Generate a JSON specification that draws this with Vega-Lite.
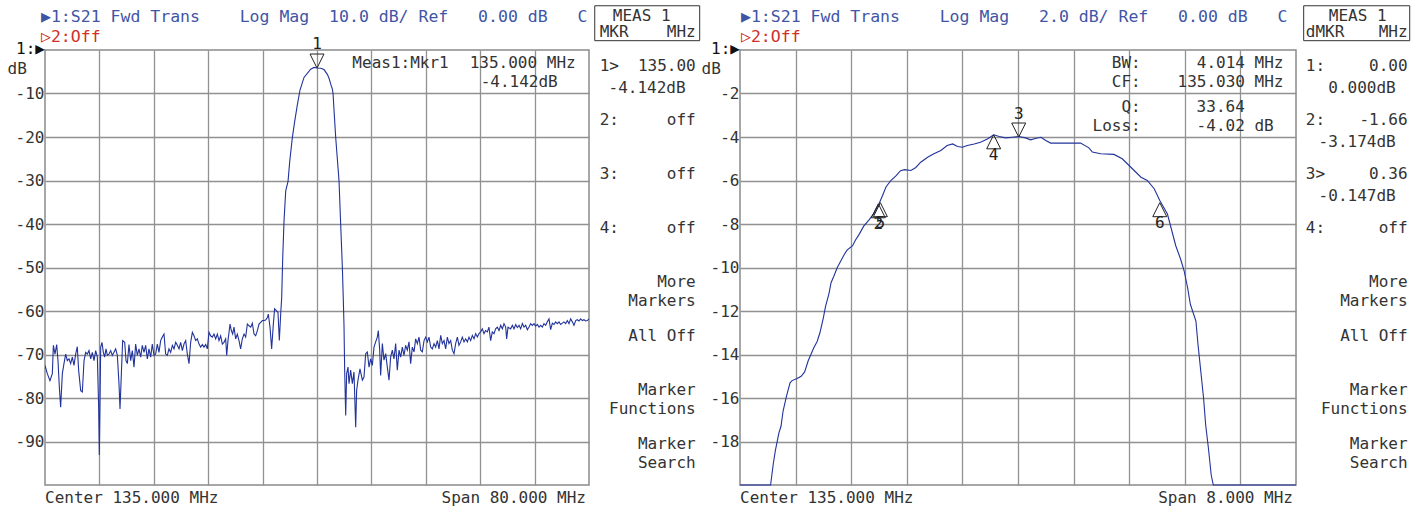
{
  "$schema": "https://vega.github.io/schema/vega-lite/v6.json",
  "background": "white",
  "padding": {"left": 6, "top": 5, "right": 0, "bottom": 0},
  "spacing": 0,
  "bounds": "flush",
  "config": {
    "font": "DejaVu Sans Mono",
    "view": {"stroke": "#8a8a8a", "strokeWidth": 1.5},
    "axis": {"labelFont": "DejaVu Sans Mono", "labelFontSize": 16, "labelColor": "#333333", "grid": true, "gridColor": "#919191", "gridWidth": 1.3, "gridOpacity": 1, "domain": false, "ticks": false, "labelPadding": 1,
      "titleFont": "DejaVu Sans Mono", "titleFontSize": 16, "titleFontWeight": "normal", "titleColor": "#333333"},
    "text": {"font": "DejaVu Sans Mono", "fontSize": 16, "color": "#333333"},
    "title": {"anchor": "start", "frame": "group", "font": "DejaVu Sans Mono", "fontSize": 16.5, "fontWeight": "normal", "color": "#3f55a5", "subtitleFont": "DejaVu Sans Mono", "subtitleFontSize": 16.5, "subtitleColor": "#d0302c", "offset": -7, "subtitlePadding": 3}
  },
  "datasets": {
    "left": [
      {"f":95.00,"db":-72.5},{"f":95.34,"db":-74.4},{"f":95.73,"db":-76.0},{"f":96.08,"db":-74.4},{"f":96.23,"db":-67.9},{"f":96.47,"db":-69.9},{"f":96.72,"db":-67.7},{"f":96.91,"db":-71.4},{"f":97.11,"db":-77.5},{"f":97.30,"db":-82.1},{"f":97.55,"db":-74.4},{"f":97.79,"db":-72.1},{"f":98.04,"db":-69.9},{"f":98.28,"db":-71.4},{"f":98.53,"db":-71.0},{"f":98.77,"db":-72.1},{"f":99.02,"db":-70.6},{"f":99.26,"db":-72.5},{"f":99.51,"db":-69.9},{"f":99.75,"db":-68.2},{"f":99.95,"db":-73.7},{"f":100.25,"db":-78.3},{"f":100.49,"db":-78.6},{"f":100.74,"db":-71.4},{"f":100.98,"db":-69.5},{"f":101.23,"db":-69.9},{"f":101.47,"db":-69.1},{"f":101.72,"db":-71.0},{"f":101.96,"db":-69.5},{"f":102.21,"db":-71.4},{"f":102.45,"db":-69.1},{"f":102.70,"db":-70.6},{"f":102.89,"db":-82.1},{"f":102.99,"db":-93.1},{"f":103.09,"db":-81.3},{"f":103.19,"db":-68.3},{"f":103.38,"db":-67.2},{"f":103.58,"db":-69.5},{"f":103.77,"db":-70.6},{"f":103.97,"db":-68.7},{"f":104.17,"db":-70.2},{"f":104.41,"db":-69.9},{"f":104.66,"db":-69.1},{"f":104.90,"db":-70.2},{"f":105.15,"db":-69.5},{"f":105.39,"db":-68.7},{"f":105.64,"db":-70.2},{"f":105.88,"db":-76.7},{"f":106.03,"db":-82.5},{"f":106.23,"db":-74.4},{"f":106.42,"db":-66.8},{"f":106.72,"db":-67.2},{"f":106.91,"db":-71.4},{"f":107.11,"db":-72.1},{"f":107.35,"db":-67.7},{"f":107.60,"db":-71.4},{"f":107.84,"db":-69.1},{"f":108.09,"db":-72.9},{"f":108.33,"db":-67.6},{"f":108.58,"db":-70.2},{"f":108.82,"db":-68.7},{"f":109.07,"db":-70.6},{"f":109.31,"db":-67.9},{"f":109.56,"db":-69.5},{"f":109.80,"db":-67.9},{"f":110.05,"db":-71.0},{"f":110.29,"db":-68.7},{"f":110.54,"db":-70.6},{"f":110.78,"db":-67.6},{"f":111.03,"db":-70.2},{"f":111.27,"db":-69.9},{"f":111.52,"db":-67.6},{"f":111.76,"db":-69.5},{"f":112.01,"db":-66.8},{"f":112.25,"db":-66.0},{"f":112.50,"db":-65.3},{"f":112.74,"db":-69.9},{"f":112.99,"db":-70.2},{"f":113.23,"db":-68.7},{"f":113.48,"db":-69.5},{"f":113.73,"db":-67.9},{"f":113.97,"db":-68.7},{"f":114.22,"db":-67.2},{"f":114.46,"db":-67.9},{"f":114.71,"db":-68.7},{"f":114.95,"db":-67.2},{"f":115.20,"db":-69.1},{"f":115.44,"db":-67.6},{"f":115.69,"db":-66.8},{"f":115.93,"db":-69.9},{"f":116.18,"db":-72.1},{"f":116.42,"db":-67.2},{"f":116.67,"db":-64.9},{"f":116.91,"db":-65.7},{"f":117.16,"db":-66.8},{"f":117.40,"db":-66.4},{"f":117.65,"db":-67.6},{"f":117.89,"db":-68.3},{"f":118.14,"db":-67.7},{"f":118.38,"db":-68.3},{"f":118.63,"db":-67.7},{"f":118.87,"db":-68.7},{"f":119.12,"db":-64.9},{"f":119.36,"db":-65.7},{"f":119.61,"db":-66.0},{"f":119.85,"db":-65.3},{"f":120.10,"db":-66.4},{"f":120.34,"db":-65.3},{"f":120.59,"db":-66.8},{"f":120.83,"db":-65.7},{"f":121.08,"db":-67.6},{"f":121.32,"db":-67.2},{"f":121.57,"db":-66.4},{"f":121.72,"db":-70.2},{"f":121.91,"db":-66.8},{"f":122.21,"db":-63.0},{"f":122.40,"db":-64.5},{"f":122.60,"db":-65.3},{"f":122.79,"db":-63.7},{"f":123.04,"db":-66.4},{"f":123.28,"db":-65.3},{"f":123.53,"db":-66.8},{"f":123.77,"db":-68.7},{"f":124.02,"db":-66.4},{"f":124.27,"db":-65.3},{"f":124.51,"db":-66.0},{"f":124.76,"db":-63.0},{"f":125.00,"db":-63.4},{"f":125.25,"db":-63.7},{"f":125.49,"db":-62.8},{"f":125.74,"db":-65.3},{"f":125.98,"db":-65.7},{"f":126.23,"db":-64.5},{"f":126.47,"db":-63.0},{"f":126.72,"db":-62.6},{"f":126.96,"db":-62.2},{"f":127.21,"db":-62.2},{"f":127.45,"db":-62.1},{"f":127.70,"db":-61.5},{"f":127.84,"db":-60.7},{"f":128.09,"db":-63.7},{"f":128.33,"db":-68.7},{"f":128.58,"db":-63.0},{"f":128.77,"db":-59.5},{"f":129.02,"db":-59.9},{"f":129.26,"db":-60.3},{"f":129.46,"db":-66.8},{"f":129.66,"db":-60.7},{"f":129.81,"db":-56.9},{"f":129.96,"db":-47.7},{"f":130.15,"db":-39.3},{"f":130.40,"db":-32.4},{"f":130.74,"db":-30.2},{"f":130.99,"db":-25.6},{"f":131.37,"db":-20.2},{"f":131.72,"db":-16.4},{"f":132.11,"db":-12.6},{"f":132.50,"db":-9.2},{"f":133.09,"db":-6.3},{"f":134.07,"db":-4.4},{"f":134.56,"db":-4.0},{"f":135.00,"db":-4.14},{"f":135.54,"db":-4.2},{"f":136.03,"db":-4.5},{"f":136.52,"db":-5.6},{"f":136.77,"db":-6.5},{"f":137.05,"db":-8.0},{"f":137.26,"db":-9.0},{"f":137.36,"db":-10.0},{"f":137.55,"db":-15.0},{"f":137.75,"db":-20.1},{"f":138.24,"db":-30.1},{"f":138.48,"db":-40.0},{"f":138.73,"db":-50.0},{"f":138.87,"db":-57.5},{"f":138.97,"db":-63.3},{"f":139.07,"db":-73.6},{"f":139.22,"db":-84.0},
      {"f":139.36,"db":-74.4},{"f":139.56,"db":-72.9},{"f":139.71,"db":-76.7},{"f":139.95,"db":-73.6},{"f":140.20,"db":-76.7},{"f":140.44,"db":-74.0},{"f":140.69,"db":-86.7},{"f":140.83,"db":-78.2},{"f":141.03,"db":-75.9},{"f":141.32,"db":-73.3},{"f":141.67,"db":-75.9},{"f":141.91,"db":-75.2},{"f":142.16,"db":-69.8},{"f":142.40,"db":-69.4},{"f":142.65,"db":-72.9},{"f":142.89,"db":-71.0},{"f":143.14,"db":-72.5},{"f":143.38,"db":-68.3},{"f":143.63,"db":-67.1},{"f":143.87,"db":-66.0},{"f":144.02,"db":-64.5},{"f":144.22,"db":-69.0},{"f":144.36,"db":-74.8},{"f":144.61,"db":-67.5},{"f":144.85,"db":-71.3},{"f":145.10,"db":-69.8},{"f":145.34,"db":-72.9},{"f":145.59,"db":-75.9},{"f":145.83,"db":-70.6},{"f":146.08,"db":-69.0},{"f":146.32,"db":-71.0},{"f":146.57,"db":-67.5},{"f":146.81,"db":-73.6},{"f":147.06,"db":-69.0},{"f":147.30,"db":-70.6},{"f":147.55,"db":-68.3},{"f":147.79,"db":-70.2},{"f":148.04,"db":-67.9},{"f":148.28,"db":-69.0},{"f":148.53,"db":-67.1},{"f":148.77,"db":-72.1},{"f":149.02,"db":-68.3},{"f":149.27,"db":-69.4},{"f":149.51,"db":-66.4},{"f":149.76,"db":-67.5},{"f":150.00,"db":-66.0},{"f":150.25,"db":-69.0},{"f":150.49,"db":-69.4},{"f":150.74,"db":-66.8},{"f":150.98,"db":-66.0},{"f":151.23,"db":-67.1},{"f":151.47,"db":-66.0},{"f":151.72,"db":-68.3},{"f":151.96,"db":-68.7},{"f":152.21,"db":-67.5},{"f":152.45,"db":-68.3},{"f":152.70,"db":-66.8},{"f":152.94,"db":-68.7},{"f":153.19,"db":-65.6},{"f":153.43,"db":-67.5},{"f":153.68,"db":-66.8},{"f":153.92,"db":-68.7},{"f":154.17,"db":-66.0},{"f":154.41,"db":-67.5},{"f":154.66,"db":-66.8},{"f":154.90,"db":-69.0},{"f":155.15,"db":-69.8},{"f":155.39,"db":-67.5},{"f":155.64,"db":-66.0},{"f":155.88,"db":-67.9},{"f":156.13,"db":-67.1},{"f":156.37,"db":-66.0},{"f":156.62,"db":-67.1},{"f":156.86,"db":-66.4},{"f":157.11,"db":-67.1},{"f":157.35,"db":-66.0},{"f":157.60,"db":-66.8},{"f":157.84,"db":-65.6},{"f":158.09,"db":-66.4},{"f":158.33,"db":-65.2},{"f":158.58,"db":-66.0},{"f":158.82,"db":-65.2},{"f":159.07,"db":-64.8},{"f":159.31,"db":-64.1},{"f":159.56,"db":-65.2},{"f":159.80,"db":-64.5},{"f":160.05,"db":-64.8},{"f":160.29,"db":-63.7},{"f":160.54,"db":-66.8},{"f":160.78,"db":-64.8},{"f":161.03,"db":-65.2},{"f":161.27,"db":-64.1},{"f":161.52,"db":-63.7},{"f":161.77,"db":-64.5},{"f":162.01,"db":-63.3},{"f":162.26,"db":-64.1},{"f":162.50,"db":-62.9},{"f":162.75,"db":-63.7},{"f":162.89,"db":-66.4},{"f":163.09,"db":-63.7},{"f":163.48,"db":-64.1},{"f":163.73,"db":-63.3},{"f":163.97,"db":-64.1},{"f":164.22,"db":-63.1},{"f":164.46,"db":-63.8},{"f":164.71,"db":-63.3},{"f":164.95,"db":-64.1},{"f":165.20,"db":-62.9},{"f":165.44,"db":-63.7},{"f":165.69,"db":-63.3},{"f":165.93,"db":-64.3},{"f":166.18,"db":-63.7},{"f":166.42,"db":-62.9},{"f":166.67,"db":-63.3},{"f":166.91,"db":-62.9},{"f":167.16,"db":-63.5},{"f":167.40,"db":-63.1},{"f":167.65,"db":-63.7},{"f":167.89,"db":-63.3},{"f":168.14,"db":-63.7},{"f":168.38,"db":-62.9},{"f":168.63,"db":-63.3},{"f":168.87,"db":-62.5},{"f":169.12,"db":-61.8},{"f":169.36,"db":-64.3},{"f":169.61,"db":-62.8},{"f":169.85,"db":-63.1},{"f":170.10,"db":-62.5},{"f":170.34,"db":-62.9},{"f":170.59,"db":-62.5},{"f":170.83,"db":-63.1},{"f":171.08,"db":-62.8},{"f":171.32,"db":-62.5},{"f":171.57,"db":-62.9},{"f":171.81,"db":-62.2},{"f":172.06,"db":-62.9},{"f":172.30,"db":-61.8},{"f":172.55,"db":-62.5},{"f":172.79,"db":-63.3},{"f":173.04,"db":-62.2},{"f":173.28,"db":-62.0},{"f":173.53,"db":-62.3},{"f":173.77,"db":-61.8},{"f":174.02,"db":-62.2},{"f":174.26,"db":-62.0},{"f":174.51,"db":-62.3},{"f":174.75,"db":-62.2},{"f":175.00,"db":-61.8}
    ],
    "right": [
      {"f":131.0,"db":-20},{"f":131.44,"db":-20},{"f":131.48,"db":-19.0},{"f":131.51,"db":-18.4},{"f":131.56,"db":-17.6},{"f":131.59,"db":-17.3},{"f":131.62,"db":-16.6},{"f":131.67,"db":-15.9},{"f":131.72,"db":-15.3},{"f":131.75,"db":-15.2},{"f":131.82,"db":-15.1},{"f":131.88,"db":-15.0},{"f":131.93,"db":-14.8},{"f":131.98,"db":-14.3},{"f":132.02,"db":-14.0},{"f":132.06,"db":-13.7},{"f":132.11,"db":-13.4},{"f":132.15,"db":-13.0},{"f":132.20,"db":-12.3},{"f":132.23,"db":-11.8},{"f":132.28,"db":-11.2},{"f":132.31,"db":-10.7},{"f":132.35,"db":-10.4},{"f":132.40,"db":-10.0},{"f":132.45,"db":-9.7},{"f":132.50,"db":-9.4},{"f":132.54,"db":-9.2},{"f":132.62,"db":-9.0},{"f":132.66,"db":-8.75},{"f":132.71,"db":-8.5},{"f":132.78,"db":-8.1},{"f":132.86,"db":-7.8},{"f":132.93,"db":-7.5},{"f":133.00,"db":-7.07},{"f":133.05,"db":-6.7},{"f":133.10,"db":-6.3},{"f":133.17,"db":-6.0},{"f":133.24,"db":-5.8},{"f":133.31,"db":-5.55},{"f":133.37,"db":-5.5},{"f":133.46,"db":-5.54},{"f":133.53,"db":-5.4},{"f":133.60,"db":-5.16},{"f":133.70,"db":-4.93},{"f":133.79,"db":-4.77},{"f":133.89,"db":-4.62},{"f":133.98,"db":-4.39},{"f":134.06,"db":-4.32},{"f":134.13,"db":-4.44},{"f":134.20,"db":-4.47},{"f":134.27,"db":-4.39},{"f":134.37,"db":-4.32},{"f":134.46,"db":-4.24},{"f":134.56,"db":-4.09},{"f":134.65,"db":-3.9},{"f":134.73,"db":-3.98},{"f":134.82,"db":-4.04},{"f":134.92,"db":-4.01},{"f":135.01,"db":-3.98},{"f":135.11,"db":-4.04},{"f":135.18,"db":-4.13},{"f":135.25,"db":-4.07},{"f":135.33,"db":-4.01},{"f":135.40,"db":-4.16},{"f":135.47,"db":-4.28},{"f":135.61,"db":-4.28},{"f":135.76,"db":-4.28},{"f":135.90,"db":-4.28},{"f":136.02,"db":-4.5},{"f":136.07,"db":-4.69},{"f":136.19,"db":-4.77},{"f":136.38,"db":-4.8},{"f":136.50,"db":-5.0},{"f":136.62,"db":-5.38},{"f":136.77,"db":-5.85},{"f":136.86,"db":-6.0},{"f":136.96,"db":-6.38},{"f":137.04,"db":-6.92},{"f":137.15,"db":-7.54},{"f":137.20,"db":-8.15},{"f":137.27,"db":-9.0},{"f":137.34,"db":-9.62},{"f":137.39,"db":-10.15},{"f":137.44,"db":-10.92},{"f":137.48,"db":-11.69},{"f":137.56,"db":-12.46},{"f":137.59,"db":-13.54},{"f":137.63,"db":-14.77},{"f":137.67,"db":-16.0},{"f":137.70,"db":-17.23},{"f":137.74,"db":-18.31},{"f":137.78,"db":-19.54},{"f":137.81,"db":-20},{"f":139.0,"db":-20}
    ],
    "leftMarkers": [{"f":135.0,"db":-4.142,"label":"1","dir":"down"}],
    "rightMarkers": [
      {"f":135.01,"db":-4.0,"label":"3","dir":"down"},
      {"f":134.65,"db":-3.9,"label":"4","dir":"up"},
      {"f":132.99,"db":-7.07,"label":"2","dir":"up"},
      {"f":133.02,"db":-7.02,"label":"5","dir":"up"},
      {"f":137.04,"db":-7.02,"label":"6","dir":"up"}
    ],
    "leftSide": [
      {"line":-2.78,"head":"MEAS 1"},
      {"line":-1.89,"key":"MKR","val":"MHz"},
      {"line":0,"key":"1>","val":"135.00"},
      {"line":1.25,"val2":"-4.142dB"},
      {"line":3,"key":"2:","val":"off"},
      {"line":6,"key":"3:","val":"off"},
      {"line":9,"key":"4:","val":"off"},
      {"line":12,"val":"More"},
      {"line":13.1,"val":"Markers"},
      {"line":15,"val":"All Off"},
      {"line":18,"val":"Marker"},
      {"line":19.1,"val":"Functions"},
      {"line":21,"val":"Marker"},
      {"line":22.1,"val":"Search"}
    ],
    "rightSide": [
      {"line":-2.78,"head":"MEAS 1"},
      {"line":-1.89,"key":"dMKR","val":"MHz"},
      {"line":0,"key":"1:","val":"0.00"},
      {"line":1.25,"val2":"0.000dB"},
      {"line":3,"key":"2:","val":"-1.66"},
      {"line":4.25,"val2":"-3.174dB"},
      {"line":6,"key":"3>","val":"0.36"},
      {"line":7.25,"val2":"-0.147dB"},
      {"line":9,"key":"4:","val":"off"},
      {"line":12,"val":"More"},
      {"line":13.1,"val":"Markers"},
      {"line":15,"val":"All Off"},
      {"line":18,"val":"Marker"},
      {"line":19.1,"val":"Functions"},
      {"line":21,"val":"Marker"},
      {"line":22.1,"val":"Search"}
    ]
  },
  "hconcat": [
    {
      "width": 544, "height": 435,
      "title": {"text": "▶1:S21 Fwd Trans\u00a0\u00a0\u00a0\u00a0Log Mag\u00a0\u00a010.0 dB/\u00a0Ref\u00a0\u00a0\u00a00.00 dB\u00a0\u00a0\u00a0C", "subtitle": "▷2:Off", "dx": -4, "dy": 2},
      "layer": [
        {
          "data": {"name": "left"},
          "mark": {"type": "line", "color": "#22339b", "strokeWidth": 1.1, "clip": true},
          "encoding": {
            "x": {"field": "f", "type": "quantitative", "scale": {"domain": [95, 175], "nice": false, "zero": false}, "axis": {"values": [103, 111, 119, 127, 135, 143, 151, 159, 167], "labels": false, "title": null}},
            "y": {"field": "db", "type": "quantitative", "scale": {"domain": [-100, 0], "nice": false, "zero": false}, "axis": {"values": [-10, -20, -30, -40, -50, -60, -70, -80, -90], "labelExpr": "datum.value + ''", "title": "dB", "titleAngle": 0, "titleAlign": "left", "titleBaseline": "middle", "titleX": -38, "titleY": 18}}
          }
        },
        {
          "data": {"name": "leftMarkers"},
          "mark": {"type": "point", "shape": "M0,0L-0.5,-1L0.5,-1Z", "size": 784, "filled": false, "stroke": "#222222", "strokeWidth": 1, "opacity": 1},
          "encoding": {"x": {"field": "f", "type": "quantitative"}, "y": {"field": "db", "type": "quantitative"}}
        },
        {
          "data": {"name": "leftMarkers"},
          "mark": {"type": "text", "dy": -24, "baseline": "middle", "align": "center", "color": "#222222"},
          "encoding": {"x": {"field": "f", "type": "quantitative"}, "y": {"field": "db", "type": "quantitative"}, "text": {"field": "label"}}
        },
        {"data": {"values": [{}]}, "mark": {"type": "text", "text": "1:▶", "align": "right", "baseline": "middle", "dy": -1, "color": "#111111"}, "encoding": {"x": {"datum": 95}, "y": {"datum": 0}}},
        {"data": {"values": [{}]}, "mark": {"type": "text", "text": "Meas1:Mkr1", "align": "left", "baseline": "middle"}, "encoding": {"x": {"datum": 140.2}, "y": {"datum": -3.08}}},
        {"data": {"values": [{}]}, "mark": {"type": "text", "text": "135.000 MHz", "align": "right", "baseline": "middle"}, "encoding": {"x": {"datum": 173.04}, "y": {"datum": -3.08}}},
        {"data": {"values": [{}]}, "mark": {"type": "text", "text": "-4.142dB", "align": "right", "baseline": "middle"}, "encoding": {"x": {"datum": 170.4}, "y": {"datum": -7.45}}},
        {"data": {"values": [{}]}, "mark": {"type": "text", "text": "Center 135.000 MHz", "align": "left", "baseline": "middle", "dy": 13}, "encoding": {"x": {"datum": 95}, "y": {"datum": -100}}},
        {"data": {"values": [{}]}, "mark": {"type": "text", "text": "Span 80.000 MHz", "align": "right", "baseline": "middle", "dy": 13, "dx": -3}, "encoding": {"x": {"datum": 175}, "y": {"datum": -100}}}
      ]
    },
    {
      "width": 151, "height": 435, "view": {"stroke": null},
      "data": {"name": "leftSide"},
      "layer": [
        {"data": {"values": [{}]}, "mark": {"type": "rect", "filled": false, "stroke": "#333333", "strokeWidth": 1},
         "encoding": {"x": {"datum": 3.8, "type": "quantitative", "scale": {"domain": [0, 100]}, "axis": null}, "x2": {"datum": 73.3}, "y": {"datum": -3.33, "type": "quantitative", "scale": {"domain": [-0.872, 23.295], "reverse": true, "nice": false, "zero": false}, "axis": null}, "y2": {"datum": -1.39}}},
        {"transform": [{"filter": "isValid(datum.head)"}], "mark": {"type": "text", "align": "center", "baseline": "middle"},
         "encoding": {"x": {"datum": 34.9, "type": "quantitative", "axis": null}, "y": {"field": "line", "type": "quantitative", "axis": null}, "text": {"field": "head"}}},
        {"transform": [{"filter": "isValid(datum.key)"}], "mark": {"type": "text", "align": "left", "baseline": "middle"},
         "encoding": {"x": {"datum": 7.1, "type": "quantitative", "axis": null}, "y": {"field": "line", "type": "quantitative", "axis": null}, "text": {"field": "key"}}},
        {"transform": [{"filter": "isValid(datum.val)"}], "mark": {"type": "text", "align": "right", "baseline": "middle"},
         "encoding": {"x": {"datum": 70.7, "type": "quantitative", "axis": null}, "y": {"field": "line", "type": "quantitative", "axis": null}, "text": {"field": "val"}}},
        {"transform": [{"filter": "isValid(datum.val2)"}], "mark": {"type": "text", "align": "right", "baseline": "middle"},
         "encoding": {"x": {"datum": 64.0, "type": "quantitative", "axis": null}, "y": {"field": "line", "type": "quantitative", "axis": null}, "text": {"field": "val2"}}}
      ]
    },
    {
      "width": 556, "height": 435,
      "title": {"text": "▶1:S21 Fwd Trans\u00a0\u00a0\u00a0\u00a0Log Mag\u00a0\u00a0\u00a02.0 dB/\u00a0Ref\u00a0\u00a0\u00a00.00 dB\u00a0\u00a0\u00a0C", "subtitle": "▷2:Off", "dx": 1, "dy": -3},
      "layer": [
        {
          "data": {"name": "right"},
          "mark": {"type": "line", "color": "#22339b", "strokeWidth": 1.1},
          "encoding": {
            "x": {"field": "f", "type": "quantitative", "scale": {"domain": [131, 139], "nice": false, "zero": false}, "axis": {"values": [131.8, 132.6, 133.4, 134.2, 135, 135.8, 136.6, 137.4, 138.2], "labels": false, "title": null}},
            "y": {"field": "db", "type": "quantitative", "scale": {"domain": [-20, 0], "nice": false, "zero": false}, "axis": {"values": [-2, -4, -6, -8, -10, -12, -14, -16, -18], "labelExpr": "datum.value + ''", "title": "dB", "titleAngle": 0, "titleAlign": "left", "titleBaseline": "middle", "titleX": -39, "titleY": 18}}
          }
        },
        {
          "data": {"name": "rightMarkers"},
          "transform": [{"filter": "datum.dir == 'up'"}],
          "mark": {"type": "point", "shape": "M0,0L-0.5,1L0.5,1Z", "size": 784, "filled": false, "stroke": "#222222", "strokeWidth": 1, "opacity": 1},
          "encoding": {"x": {"field": "f", "type": "quantitative"}, "y": {"field": "db", "type": "quantitative"}}
        },
        {
          "data": {"name": "rightMarkers"},
          "transform": [{"filter": "datum.dir == 'down'"}],
          "mark": {"type": "point", "shape": "M0,0L-0.5,-1L0.5,-1Z", "size": 784, "filled": false, "stroke": "#222222", "strokeWidth": 1, "opacity": 1},
          "encoding": {"x": {"field": "f", "type": "quantitative"}, "y": {"field": "db", "type": "quantitative"}}
        },
        {
          "data": {"name": "rightMarkers"},
          "transform": [{"filter": "datum.dir == 'up'"}],
          "mark": {"type": "text", "dy": 20, "baseline": "middle", "align": "center", "color": "#222222"},
          "encoding": {"x": {"field": "f", "type": "quantitative"}, "y": {"field": "db", "type": "quantitative"}, "text": {"field": "label"}}
        },
        {
          "data": {"name": "rightMarkers"},
          "transform": [{"filter": "datum.dir == 'down'"}],
          "mark": {"type": "text", "dy": -23, "baseline": "middle", "align": "center", "color": "#222222"},
          "encoding": {"x": {"field": "f", "type": "quantitative"}, "y": {"field": "db", "type": "quantitative"}, "text": {"field": "label"}}
        },
        {"data": {"values": [{}]}, "mark": {"type": "text", "text": "1:▶", "align": "right", "baseline": "middle", "dy": -1, "color": "#111111"}, "encoding": {"x": {"datum": 131}, "y": {"datum": 0}}},
        {"data": {"values": [{}]}, "mark": {"type": "text", "text": "BW:", "align": "right", "baseline": "middle"}, "encoding": {"x": {"datum": 136.766}, "y": {"datum": -0.616}}},
        {"data": {"values": [{}]}, "mark": {"type": "text", "text": "CF:", "align": "right", "baseline": "middle"}, "encoding": {"x": {"datum": 136.766}, "y": {"datum": -1.49}}},
        {"data": {"values": [{}]}, "mark": {"type": "text", "text": "Q:", "align": "right", "baseline": "middle"}, "encoding": {"x": {"datum": 136.766}, "y": {"datum": -2.64}}},
        {"data": {"values": [{}]}, "mark": {"type": "text", "text": "Loss:", "align": "right", "baseline": "middle"}, "encoding": {"x": {"datum": 136.766}, "y": {"datum": -3.48}}},
        {"data": {"values": [{}]}, "mark": {"type": "text", "text": "4.014 MHz", "align": "right", "baseline": "middle"}, "encoding": {"x": {"datum": 138.82}, "y": {"datum": -0.616}}},
        {"data": {"values": [{}]}, "mark": {"type": "text", "text": "135.030 MHz", "align": "right", "baseline": "middle"}, "encoding": {"x": {"datum": 138.82}, "y": {"datum": -1.49}}},
        {"data": {"values": [{}]}, "mark": {"type": "text", "text": "33.64", "align": "left", "baseline": "middle"}, "encoding": {"x": {"datum": 137.57}, "y": {"datum": -2.64}}},
        {"data": {"values": [{}]}, "mark": {"type": "text", "text": "-4.02 dB", "align": "left", "baseline": "middle"}, "encoding": {"x": {"datum": 137.57}, "y": {"datum": -3.48}}},
        {"data": {"values": [{}]}, "mark": {"type": "text", "text": "Center 135.000 MHz", "align": "left", "baseline": "middle", "dy": 13}, "encoding": {"x": {"datum": 131}, "y": {"datum": -20}}},
        {"data": {"values": [{}]}, "mark": {"type": "text", "text": "Span 8.000 MHz", "align": "right", "baseline": "middle", "dy": 13, "dx": -3}, "encoding": {"x": {"datum": 139}, "y": {"datum": -20}}}
      ]
    },
    {
      "width": 122, "height": 435, "view": {"stroke": null},
      "data": {"name": "rightSide"},
      "layer": [
        {"data": {"values": [{}]}, "mark": {"type": "rect", "filled": false, "stroke": "#333333", "strokeWidth": 1},
         "encoding": {"x": {"datum": 6.3, "type": "quantitative", "scale": {"domain": [0, 100]}, "axis": null}, "x2": {"datum": 93.2}, "y": {"datum": -3.33, "type": "quantitative", "scale": {"domain": [-0.872, 23.295], "reverse": true, "nice": false, "zero": false}, "axis": null}, "y2": {"datum": -1.39}}},
        {"transform": [{"filter": "isValid(datum.head)"}], "mark": {"type": "text", "align": "center", "baseline": "middle"},
         "encoding": {"x": {"datum": 50.6, "type": "quantitative", "axis": null}, "y": {"field": "line", "type": "quantitative", "axis": null}, "text": {"field": "head"}}},
        {"transform": [{"filter": "isValid(datum.key)"}], "mark": {"type": "text", "align": "left", "baseline": "middle"},
         "encoding": {"x": {"datum": 8.0, "type": "quantitative", "axis": null}, "y": {"field": "line", "type": "quantitative", "axis": null}, "text": {"field": "key"}}},
        {"transform": [{"filter": "isValid(datum.val)"}], "mark": {"type": "text", "align": "right", "baseline": "middle"},
         "encoding": {"x": {"datum": 91.5, "type": "quantitative", "axis": null}, "y": {"field": "line", "type": "quantitative", "axis": null}, "text": {"field": "val"}}},
        {"transform": [{"filter": "isValid(datum.val2)"}], "mark": {"type": "text", "align": "right", "baseline": "middle"},
         "encoding": {"x": {"datum": 81.7, "type": "quantitative", "axis": null}, "y": {"field": "line", "type": "quantitative", "axis": null}, "text": {"field": "val2"}}}
      ]
    }
  ]
}
